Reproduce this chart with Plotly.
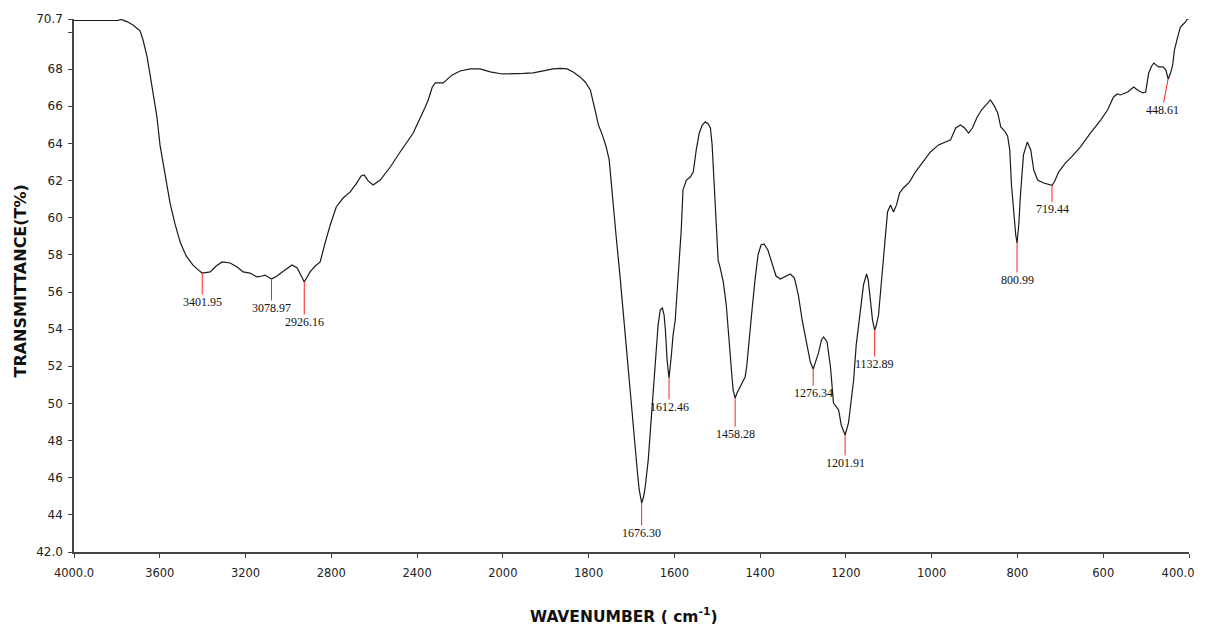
import plotly.graph_objects as go

# ---------------- data ----------------
wavenumber = [4000, 3879, 3795, 3781, 3753, 3725, 3706, 3692, 3678, 3659, 3636, 3613, 3599, 3575, 3552,
              3529, 3505, 3477, 3445, 3421, 3402, 3365, 3337, 3309, 3272, 3239, 3211, 3179, 3146, 3123,
              3109, 3079, 3053, 3029, 3006, 2983, 2959, 2941, 2926, 2913, 2899, 2875, 2852, 2829, 2805,
              2777, 2745, 2712, 2684, 2661, 2647, 2628, 2605, 2572, 2525, 2479, 2418, 2362, 2348, 2329,
              2315, 2278, 2236, 2199, 2152, 2106, 2059, 2003, 1976, 1952, 1929, 1906, 1883, 1866, 1850,
              1836, 1820, 1808, 1796, 1785, 1777, 1768, 1759, 1752, 1745, 1735, 1726, 1714, 1703, 1693,
              1686, 1682, 1676.3, 1672, 1668, 1661, 1656, 1649, 1645, 1638, 1633, 1628, 1624, 1621, 1617,
              1612.5, 1607, 1603, 1598, 1591, 1584, 1580, 1572, 1563, 1556, 1549, 1542, 1535, 1528, 1521,
              1516, 1512, 1507, 1502, 1498, 1493, 1486, 1479, 1475, 1467, 1463, 1458.3, 1454, 1447, 1440,
              1435, 1431, 1426, 1419, 1412, 1405, 1398, 1391, 1382, 1372, 1363, 1353, 1341, 1330, 1320,
              1311, 1302, 1290, 1283, 1276.3, 1271, 1264, 1257, 1252, 1244, 1236, 1229, 1222, 1217, 1211,
              1201.9, 1194, 1189, 1182, 1176, 1166, 1159, 1152, 1148, 1143, 1138, 1132.9, 1129, 1124, 1117,
              1110, 1103, 1096, 1089, 1082, 1075, 1066, 1052, 1038, 1021, 1003, 984, 967, 956, 944,
              933, 923, 914, 905, 895, 884, 872, 863, 854, 846, 839, 830, 823, 818, 814,
              809, 804, 801, 797, 793, 786, 777, 769, 762, 753, 739, 730, 719.4, 714, 704,
              688, 676, 653, 630, 606, 590, 576, 567, 560, 543, 529, 520, 508, 501, 494,
              487, 482, 471, 461, 454, 448.6, 443, 438, 434, 427, 420, 413, 408, 404, 400]

transmittance = [70.62, 70.62, 70.62, 70.68, 70.56, 70.38, 70.22, 70.06, 69.57, 68.66, 67.04, 65.42, 63.92, 62.30, 60.79,
                 59.67, 58.69, 57.94, 57.45, 57.19, 57.02, 57.08, 57.40, 57.62, 57.56, 57.35, 57.08, 57.02, 56.81, 56.86,
                 56.91, 56.70, 56.86, 57.08, 57.29, 57.45, 57.29, 56.86, 56.54, 56.81, 57.08, 57.40, 57.62, 58.64, 59.61,
                 60.58, 61.06, 61.39, 61.82, 62.25, 62.30, 61.98, 61.76, 62.03, 62.73, 63.54, 64.56, 65.96, 66.34, 67.04,
                 67.26, 67.26, 67.69, 67.90, 68.01, 68.01, 67.85, 67.74, 67.74, 67.77, 67.80, 67.90, 68.01, 68.04, 68.01,
                 67.85, 67.58, 67.31, 66.88, 65.80, 64.99, 64.46, 63.81, 63.11, 61.49, 58.80, 56.65, 53.42, 50.35, 48.03,
                 46.25, 45.34, 44.64, 44.96, 45.50, 46.95, 48.57, 50.45, 52.18, 54.22, 55.03, 55.14, 54.76, 53.95, 52.34,
                 51.37, 52.61, 53.69, 54.49, 56.65, 59.34, 61.49, 62.03, 62.19, 62.46, 63.65, 64.56, 64.99, 65.16, 65.05,
                 64.83, 63.92, 61.76, 59.61, 57.72, 57.29, 56.54, 55.30, 53.95, 51.80, 50.72, 50.29, 50.56, 50.89, 51.21,
                 51.42, 52.07, 53.15, 55.03, 56.65, 57.99, 58.53, 58.59, 58.26, 57.51, 56.86, 56.70, 56.86, 56.97, 56.75,
                 55.84, 54.49, 53.04, 52.23, 51.85, 52.23, 52.72, 53.42, 53.58, 53.31, 51.96, 50.02, 49.81, 49.65, 48.84,
                 48.30, 48.95, 49.92, 51.26, 53.15, 55.03, 56.38, 56.97, 56.65, 55.57, 54.49, 53.95, 54.22, 54.76, 56.65,
                 58.80, 60.31, 60.69, 60.31, 60.69, 61.33, 61.60, 61.92, 62.46, 63.00, 63.54, 63.92, 64.08, 64.19, 64.83,
                 64.99, 64.83, 64.56, 64.83, 65.37, 65.80, 66.12, 66.34, 66.02, 65.64, 64.89, 64.67, 64.40, 63.65, 61.76,
                 60.15, 59.07, 58.64, 59.61, 61.22, 63.38, 64.08, 63.65, 62.57, 62.03, 61.87, 61.82, 61.74, 61.92, 62.46,
                 62.95, 63.22, 63.81, 64.56, 65.26, 65.80, 66.50, 66.66, 66.61, 66.77, 67.04, 66.88, 66.72, 66.77, 67.79,
                 68.17, 68.33, 68.12, 68.12, 67.96, 67.47, 67.79, 68.23, 69.03, 69.68, 70.27, 70.43, 70.54, 70.70, 70.70]

peak_wn = [3401.95, 3078.97, 2926.16, 1676.30, 1612.46, 1458.28, 1276.34, 1201.91, 1132.89, 800.99, 719.44, 448.61]
peak_T = [57.02, 56.70, 56.54, 44.64, 51.37, 50.29, 51.85, 48.30, 53.95, 58.64, 61.74, 67.47]
peak_text = ["3401.95", "3078.97", "2926.16", "1676.30", "1612.46", "1458.28",
             "1276.34", "1201.91", "1132.89", "800.99", "719.44", "448.61"]

x_tick_wn = [4000, 3600, 3200, 2800, 2400, 2000, 1800, 1600, 1400, 1200, 1000, 800, 600, 400]
x_tick_text = ["4000.0", "3600", "3200", "2800", "2400", "2000", "1800", "1600",
               "1400", "1200", "1000", "800", "600", "400.0&nbsp;&nbsp;&nbsp;&nbsp;&nbsp;&nbsp;"]
y_tick_vals = [42, 44, 46, 48, 50, 52, 54, 56, 58, 60, 62, 64, 66, 68, 70, 70.7]
y_tick_text = ["42.0", "44", "46", "48", "50", "52", "54", "56", "58", "60",
               "62", "64", "66", "68", "", "70.7"]

# label offsets (pixels) for peak annotations -- style only
label_dx = [0, 0, 0, 0, 0, 0, 0, 0, 0, 0, 0, -6]
label_dy = [29, 29, 40, 30, 29, 36, 24, 28, 34, 37, 24, 31]


# split-scale FTIR axis: 4000-2000 compressed by half relative to 2000-400
def to_axis(w):
    return (4000 - w) / 2.0 if w >= 2000 else 1000 + (2000 - w)


xu = [to_axis(w) for w in wavenumber]

fig = go.Figure()
fig.add_trace(go.Scatter(x=xu, y=transmittance, mode="lines",
                         line=dict(color="#1a1a1a", width=1.2), hoverinfo="skip",
                         showlegend=False))

annotations = []
for w, t, txt, dx, dy in zip(peak_wn, peak_T, peak_text, label_dx, label_dy):
    annotations.append(dict(
        x=to_axis(w), y=t, xref="x", yref="y", text=txt,
        showarrow=True, arrowhead=0, arrowwidth=1, arrowcolor="#ff2020",
        ax=dx, ay=dy, standoff=0, borderpad=0,
        font=dict(family="Liberation Serif", size=12, color="#111111")))

annotations.append(dict(
    x=0.5, y=0, xref="paper", yref="paper", xanchor="center", yanchor="middle",
    xshift=-8, yshift=-63, showarrow=False,
    text="<b>WAVENUMBER ( cm<sup>-1</sup>)</b>",
    font=dict(family="DejaVu Sans", size=15.5, color="#111111")))
annotations.append(dict(
    x=0, y=0.5, xref="paper", yref="paper", xanchor="center", yanchor="middle",
    xshift=-54, yshift=4, showarrow=False, textangle=-90,
    text="<b>TRANSMITTANCE(T%)</b>",
    font=dict(family="DejaVu Sans", size=16, color="#111111")))

fig.update_layout(
    width=1205, height=624,
    margin=dict(l=66, r=24, t=11, b=80, autoexpand=False),
    paper_bgcolor="white", plot_bgcolor="white",
    font=dict(family="DejaVu Sans", size=12, color="#222222"),
    annotations=annotations,
    showlegend=False,
)
fig.update_xaxes(
    range=[0, 2600], tickmode="array",
    tickvals=[to_axis(w) for w in x_tick_wn], ticktext=x_tick_text,
    tickfont=dict(size=11.5),
    showgrid=False, zeroline=False, showline=True, linecolor="#444444", linewidth=1.5,
    ticks="outside", ticklen=4, tickcolor="#444444", tickwidth=1.2,
    ticklabelstandoff=5, ticklabeloverflow="allow", automargin=False,
)
fig.update_yaxes(
    range=[42, 70.7], tickmode="array", tickvals=y_tick_vals, ticktext=y_tick_text,
    showgrid=False, zeroline=False, showline=True, linecolor="#444444", linewidth=1.5,
    ticks="outside", ticklen=4, tickcolor="#444444", tickwidth=1.2,
    ticklabelstandoff=3, ticklabeloverflow="allow", automargin=False,
)

fig.write_html("out.html")
